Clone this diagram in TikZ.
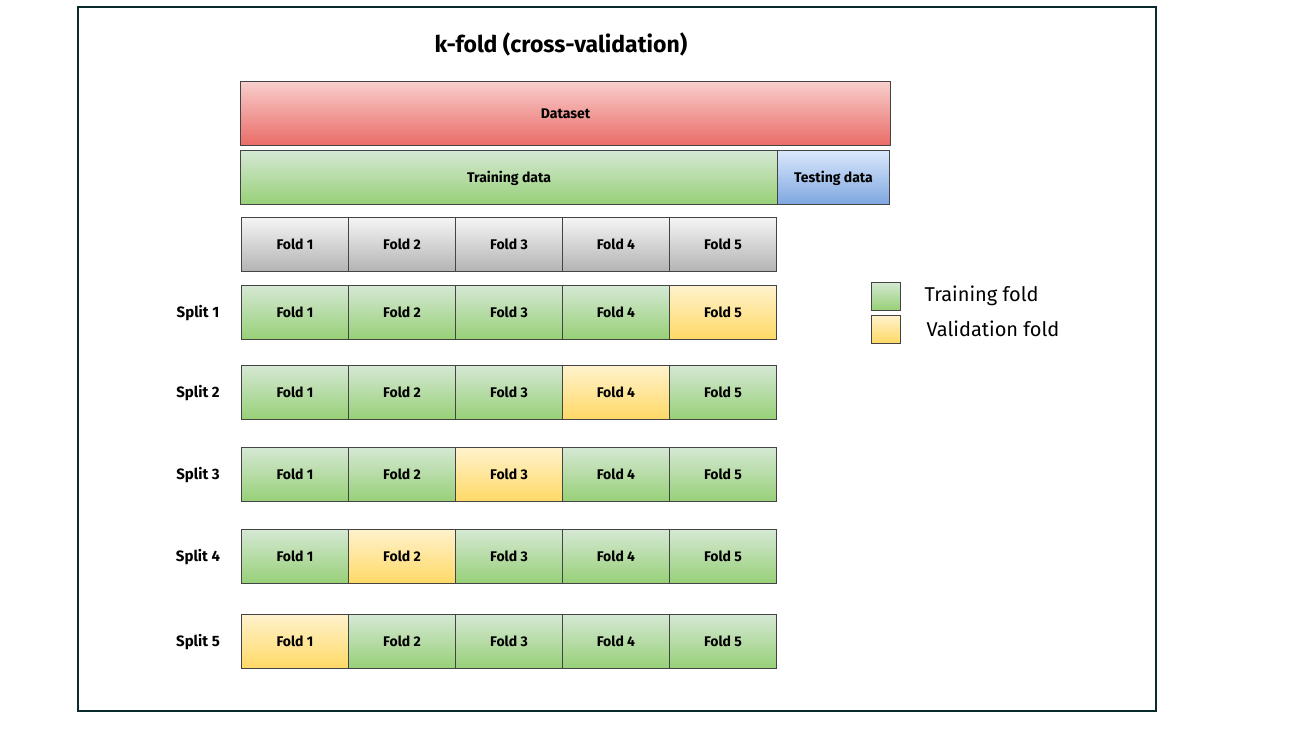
\documentclass[tikz,border=0pt]{standalone}
\usepackage{fontspec}
\setmainfont{Fira Sans}
\definecolor{framecol}{HTML}{0B2A2C}
\definecolor{edgecol}{HTML}{444444}
\definecolor{redtop}{HTML}{F8CECC}
\definecolor{redbot}{HTML}{EA6B66}
\definecolor{greentop}{HTML}{D5E8D4}
\definecolor{greenbot}{HTML}{97D077}
\definecolor{bluetop}{HTML}{DAE8FC}
\definecolor{bluebot}{HTML}{7EA6E0}
\definecolor{yellowtop}{HTML}{FFF2CC}
\definecolor{yellowbot}{HTML}{FFD966}
\definecolor{graytop}{HTML}{F5F5F5}
\definecolor{graybot}{HTML}{B3B3B3}
\begin{document}
\begin{tikzpicture}[x=1pt,y=-1pt,
  box/.style={draw=edgecol,line width=1pt,inner sep=0pt,anchor=north west,
    text height=10pt,text depth=0pt,
    font=\fontsize{14}{16}\selectfont\bfseries},
  databox/.style={box,top color=redtop,bottom color=redbot,minimum width=650pt,minimum height=64pt},
  trainbox/.style={box,top color=greentop,bottom color=greenbot,minimum width=107pt,minimum height=54pt},
  valbox/.style={box,top color=yellowtop,bottom color=yellowbot,minimum width=107pt,minimum height=54pt},
  foldbox/.style={box,top color=graytop,bottom color=graybot,minimum width=107pt,minimum height=54pt},
  testbox/.style={box,top color=bluetop,bottom color=bluebot,minimum width=112pt,minimum height=54pt},
  splitlabel/.style={font=\fontsize{15}{17}\selectfont\bfseries},
  keybox/.style={draw=edgecol,line width=1pt,minimum width=29pt,minimum height=28pt,inner sep=0pt},
  keytext/.style={anchor=west,font=\fontsize{20}{22}\selectfont}]
  \useasboundingbox (0,0) rectangle (1297,734);
  \draw[framecol,line width=2pt] (78,7) rectangle (1156,711);
  \node[font=\fontsize{23}{26}\selectfont\bfseries] (title) at (561,44) {k-fold (cross-validation)};

  \node[databox] (dataset) at (240,81) {Dataset};
  \node[trainbox,minimum width=537pt] (training) at (240,150) {Training data};
  \node[testbox] (testing) at (777,150) {Testing data};

  % the five folds
  \foreach \f in {1,...,5}
    \node[foldbox] (fold\f) at ({241+(\f-1)*107},217) {Fold \f};

  % one row per split, validation fold in yellow
  \foreach \s/\y/\v in {1/285/5,2/365/4,3/447/3,4/529/2,5/614/1}{
    \node[splitlabel] (split\s) at (198,{\y+28}) {Split \s};
    \foreach \f in {1,...,5}{
      \ifnum\f=\v \def\st{valbox}\else\def\st{trainbox}\fi
      \node[\st] (s\s f\f) at ({241+(\f-1)*107},\y) {Fold \f};
    }
  }

  % legend
  \node[keybox,top color=greentop,bottom color=greenbot] (keytrain) at (886,296) {};
  \node[keybox,top color=yellowtop,bottom color=yellowbot] (keyval) at (886,329) {};
  \node[keytext] (keytraintext) at (921,296) {Training fold};
  \node[keytext] (keyvaltext) at (923,329) {Validation fold};
\end{tikzpicture}
\end{document}
